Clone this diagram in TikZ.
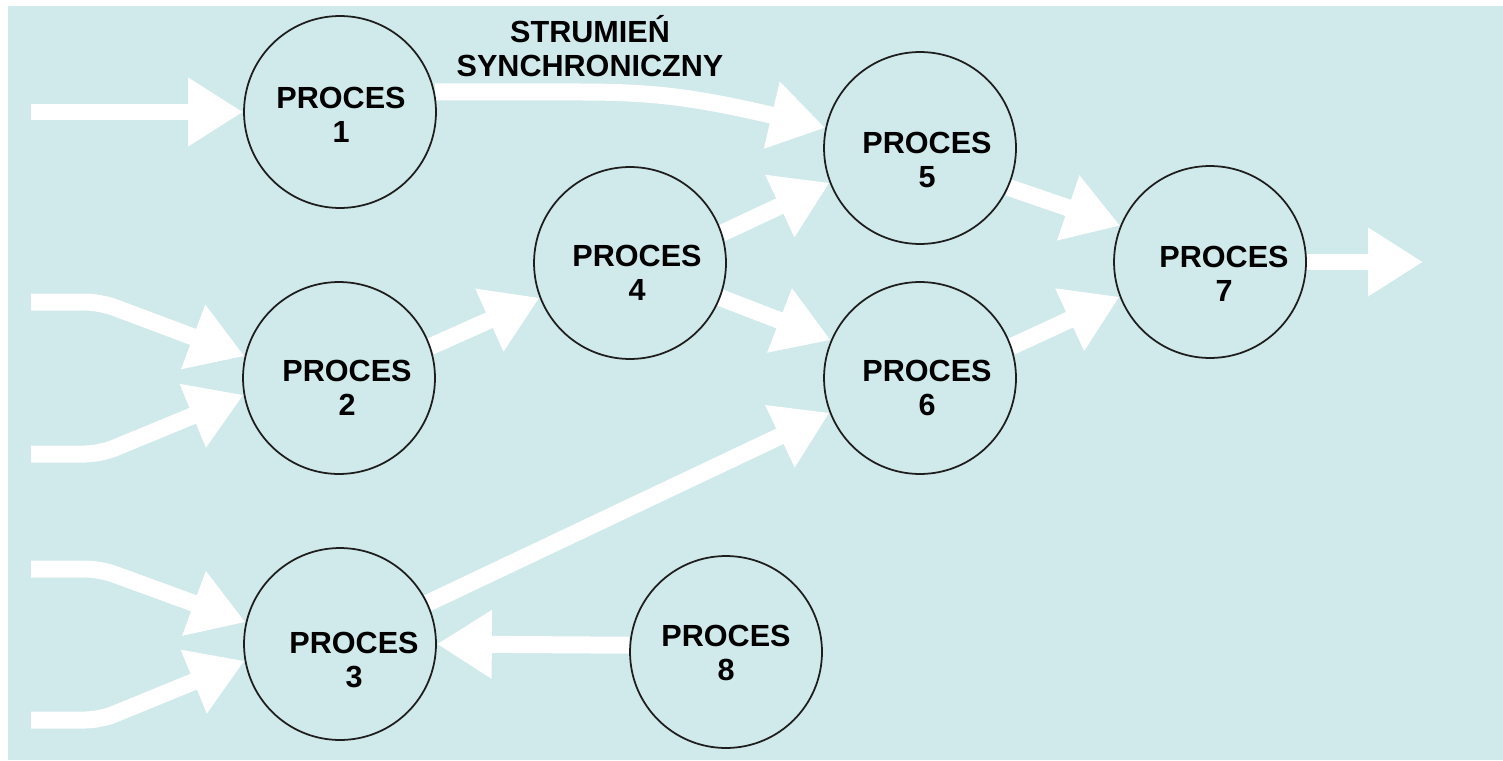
\documentclass[tikz,border=0pt]{standalone}
\usepackage{fontspec}
\setmainfont{Liberation Sans}
\usetikzlibrary{arrows.meta,bending}
\definecolor{panel}{RGB}{208,233,235}
\definecolor{ring}{RGB}{30,30,30}
\pgfdeclarelayer{back}
\pgfdeclarelayer{mid}
\pgfsetlayers{back,mid,main}
\begin{document}
\begin{tikzpicture}[x=0.02cm,y=-0.02cm,
  proc/.style={circle,draw=ring,line width=1pt,minimum size=3.84cm,inner sep=0pt},
  lbl/.style={align=center,font=\fontsize{17.4}{19.4}\selectfont\bfseries,inner sep=0pt},
  flow/.style={draw=white,line width=0.34cm,-{Triangle[length=1.1cm,width=1.3cm]}},
  flowin/.style={flow,rounded corners=0.3cm}]
\useasboundingbox (0,0) rectangle (1503,760);
\begin{pgfonlayer}{back}
  \fill[panel] (8,6) rectangle (1503,760);
\end{pgfonlayer}

% process circles
\node[proc] (p1) at (340,112) {};
\node[proc] (p2) at (339,378) {};
\node[proc] (p3) at (340,644) {};
\node[proc] (p4) at (630,263) {};
\node[proc] (p5) at (920,148) {};
\node[proc] (p6) at (920,378) {};
\node[proc] (p7) at (1210,262) {};
\node[proc] (p8) at (726,652) {};

% labels
\node[lbl] (t1) at (341,115) {PROCES\\1};
\node[lbl] (t2) at (347,388) {PROCES\\2};
\node[lbl] (t3) at (354,660) {PROCES\\3};
\node[lbl] (t4) at (637,273) {PROCES\\4};
\node[lbl] (t5) at (927,160) {PROCES\\5};
\node[lbl] (t6) at (927,388) {PROCES\\6};
\node[lbl] (t7) at (1224,274) {PROCES\\7};
\node[lbl] (t8) at (726,653) {PROCES\\8};
\node[lbl] (title) at (590,46) {STRUMIEŃ\\SYNCHRONICZNY};

% free ends
\coordinate (i1) at (31,112);
\coordinate (i2a) at (31,302);
\coordinate (b2a) at (100,302);
\coordinate (i2b) at (31,454);
\coordinate (b2b) at (100,454);
\coordinate (i3a) at (31,569);
\coordinate (b3a) at (100,569);
\coordinate (i3b) at (31,720);
\coordinate (b3b) at (100,720);
\coordinate (out) at (1423,262);
\coordinate (s1) at (580,92);

\begin{pgfonlayer}{mid}
  \draw[flow] (i1) -- (p1.180);
  \draw[flowin] (i2a) -- (b2a) -- (p2.167);
  \draw[flowin] (i2b) -- (b2b) -- (p2.190);
  \draw[flowin] (i3a) -- (b3a) -- (p3.167);
  \draw[flowin] (i3b) -- (b3b) -- (p3.190);
  \draw[flow] (p1.12) -- (s1) .. controls (670,92) and (710,100) .. (p5.168);
  \draw[flow] (p2.19.5) -- (p4.201);
  \draw[flow] (p4.18) -- (p5.201);
  \draw[flow] (p4.339) -- (p6.157);
  \draw[flow] (p5.336) -- (p7.158);
  \draw[flow] (p6.19.5) -- (p7.201);
  \draw[flow] (p3.25.6) -- (p6.201);
  \draw[flow] (p8.176) -- (p3.0);
  \draw[flow] (p7.0) -- (out);
\end{pgfonlayer}
\end{tikzpicture}
\end{document}
